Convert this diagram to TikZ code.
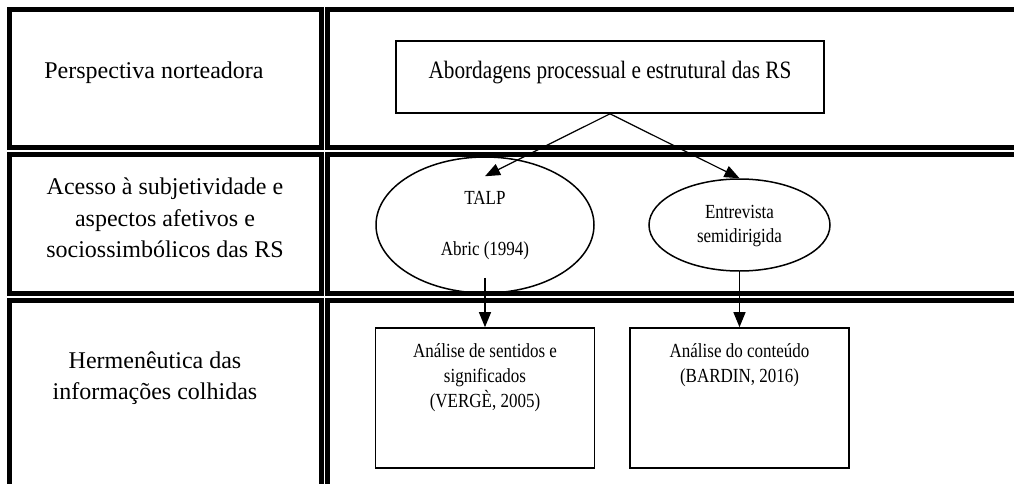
\documentclass[tikz,border=0pt]{standalone}
\usepackage{fontspec}
\usepackage{graphicx}
\setmainfont{Liberation Serif}
\usetikzlibrary{positioning,shapes.geometric,arrows.meta}
\newcommand{\nar}[1]{\scalebox{0.85}[1]{\begin{tabular}{@{}c@{}}#1\end{tabular}}}
\tikzset{
  cell/.style={line width=2.5pt},
  lefttxt/.style={align=center,inner sep=0pt,font=\fontsize{12}{15.75}\selectfont},
  righttxt/.style={inner sep=0pt,font=\fontsize{10}{12.5}\selectfont},
  box/.style={rectangle,draw,line width=0.8pt,inner sep=0pt},
  oval/.style={ellipse,draw,line width=0.75pt,inner sep=0pt},
  arr/.style={line width=0.6pt,-{Triangle[length=7.5pt,width=6pt]}}
}
\begin{document}
\begin{tikzpicture}[x=0.5pt,y=-0.5pt]
    \useasboundingbox (0,0) rectangle (1014,483);
    \clip (0,0) rectangle (1014,483);
    % table cells
    \draw[cell] (9.5,9.5) rectangle (321.5,147) (327.5,9.5) rectangle (1030,147);
    \draw[cell] (9.5,154.5) rectangle (321.5,293) (327.5,154.5) rectangle (1030,293);
    \draw[cell] (9.5,300) rectangle (321.5,520) (327.5,300) rectangle (1030,520);
    % left column
    \node[lefttxt,anchor=base] (P) at (154,78) {Perspectiva norteadora};
    \node[lefttxt] (A) at (165,218) {Acesso à subjetividade e\\aspectos afetivos e\\sociossimbólicos das RS};
    \node[lefttxt] (Hm) at (155,378) {Hermenêutica das\\informações colhidas};
    % right column
    \node[box,minimum width=214pt,minimum height=36pt,text depth=9pt,font=\fontsize{12.5}{15}\selectfont] (ab) at (610,77) {\nar{Abordagens processual e estrutural das RS}};
    \node[oval,righttxt,minimum width=109pt,minimum height=68pt] (talp) at (485,225) {\nar{TALP\\[13pt]Abric (1994)}};
    \node[oval,righttxt,minimum width=90.5pt,minimum height=46pt] (ent) at (739.5,225) {\nar{Entrevista\\[-0.5pt]semidirigida}};
    \node[box,minimum width=109.5pt,minimum height=70pt] (sent) at (485,398) {};
    \node[box,minimum width=109.5pt,minimum height=70pt] (cont) at (739.5,398) {};
    \node[righttxt,below=6pt of sent.north] (senttxt) {\nar{Análise de sentidos e\\significados\\(VERGÈ, 2005)}};
    \node[righttxt,below=6pt of cont.north] (conttxt) {\nar{Análise do conteúdo\\(BARDIN, 2016)}};
    \draw[arr] (ab.south) -- ([yshift=-10pt]talp.north);
    \draw[arr] (ab.south) -- (ent.north);
    \draw[arr] ([yshift=8pt]talp.south) -- (sent.north);
    \draw[arr] (ent.south) -- (cont.north);
\end{tikzpicture}
\end{document}
